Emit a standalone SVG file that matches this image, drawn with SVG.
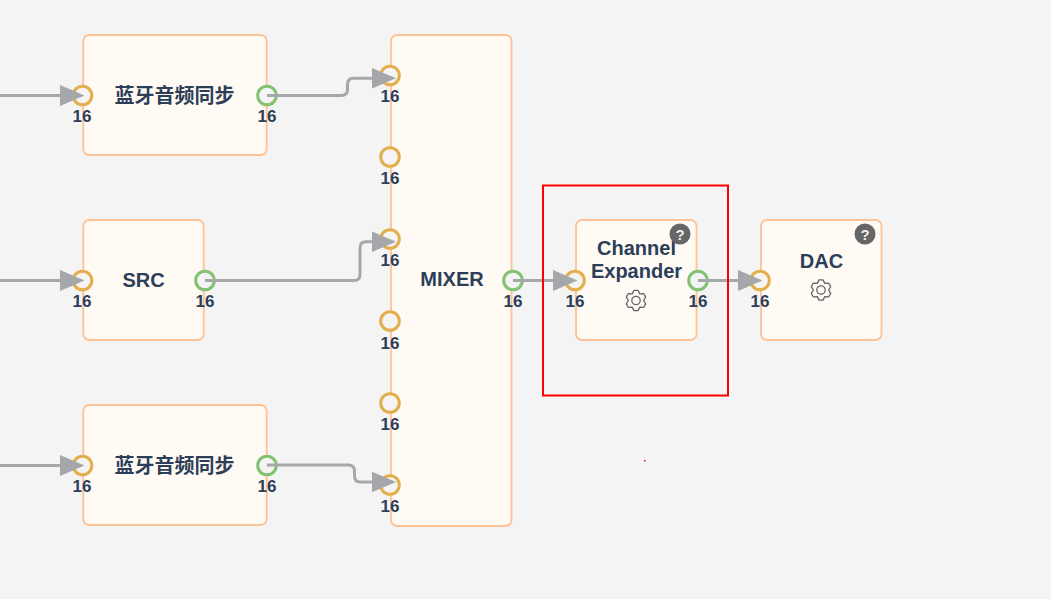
<svg xmlns="http://www.w3.org/2000/svg" width="1051" height="599" viewBox="0 0 1051 599">
<style>
.node{fill:#fffaf4;stroke:#ffc295;stroke-width:1.8}
.in{fill:#f4f4f4;stroke:#e3ae4b;stroke-width:3}
.out{fill:#f4f4f4;stroke:#82c270;stroke-width:3}
.lbl{font:bold 20px "Liberation Sans","Noto Sans CJK SC",sans-serif;fill:#2c3e58;text-anchor:middle}
.num{font:bold 17px "Liberation Sans",sans-serif;fill:#2c3e58;text-anchor:middle}
.edge{fill:none;stroke:#a6a7ab;stroke-width:3;marker-end:url(#arrow)}
.help{font:bold 15px "Liberation Sans",sans-serif;fill:#eee;text-anchor:middle}
.gear{fill:none;stroke:#666;stroke-width:1.3;stroke-linejoin:round}
</style>
<defs>
<marker id="arrow" markerUnits="userSpaceOnUse" markerWidth="26" markerHeight="22" refX="21" refY="10.500" orient="auto"><path d="M0 0L24.500 10.500L0 21Z" fill="#a6a7ab"/></marker>
<g id="gearIcon"><path class="gear" d="M-2 -10.100L2 -10.100L3.800 -6.600L7.800 -6.800L9.700 -3.350L7.600 0L9.700 3.350L7.800 6.800L3.800 6.600L2 10.100L-2 10.100L-3.800 6.600L-7.800 6.800L-9.700 3.350L-7.600 0L-9.700 -3.350L-7.800 -6.800L-3.800 -6.600Z"/><circle class="gear" r="4.200"/></g>
</defs>
<rect width="1051" height="599" fill="#f4f4f4"/>
<g id="node-bt1"><rect class="node" x="83.300" y="35" width="183.400" height="120" rx="6"/><text class="lbl" x="174.500" y="102.500">蓝牙音频同步</text><circle class="in" cx="82.500" cy="95.500" r="9.300"/><text class="num" x="82" y="121.500">16</text><circle class="out" cx="267" cy="95.500" r="9.300"/><text class="num" x="267" y="121.500">16</text></g>
<g id="node-src"><rect class="node" x="83.300" y="220" width="120.400" height="120" rx="6"/><text class="lbl" x="143.500" y="287">SRC</text><circle class="in" cx="82.500" cy="280.500" r="9.300"/><text class="num" x="82" y="306.500">16</text><circle class="out" cx="205" cy="280.500" r="9.300"/><text class="num" x="205" y="306.500">16</text></g>
<g id="node-bt2"><rect class="node" x="83.300" y="405" width="183.400" height="120" rx="6"/><text class="lbl" x="174.500" y="472.500">蓝牙音频同步</text><circle class="in" cx="82.500" cy="465.500" r="9.300"/><text class="num" x="82" y="491.500">16</text><circle class="out" cx="267" cy="465.500" r="9.300"/><text class="num" x="267" y="491.500">16</text></g>
<g id="node-mixer"><rect class="node" x="391" y="35" width="120.500" height="491" rx="6"/><text class="lbl" x="452" y="286">MIXER</text>
<circle class="in" cx="390" cy="75.500" r="9.300"/><text class="num" x="390" y="101.500">16</text>
<circle class="in" cx="390" cy="157" r="9.300"/><text class="num" x="390" y="183.500">16</text>
<circle class="in" cx="390" cy="239" r="9.300"/><text class="num" x="390" y="265.500">16</text>
<circle class="in" cx="390" cy="321" r="9.300"/><text class="num" x="390" y="348.500">16</text>
<circle class="in" cx="390" cy="403" r="9.300"/><text class="num" x="390" y="429.500">16</text>
<circle class="in" cx="390" cy="485" r="9.300"/><text class="num" x="390" y="511.500">16</text>
<circle class="out" cx="513" cy="280.500" r="9.300"/><text class="num" x="513" y="306.500">16</text></g>
<g id="node-expander"><rect class="node" x="576" y="220" width="120.500" height="120" rx="6"/><text class="lbl" x="636.500" y="255">Channel</text><text class="lbl" x="636.500" y="278">Expander</text><use href="#gearIcon" x="636" y="300.500"/><circle cx="680" cy="234" r="10.500" fill="#666"/><text class="help" x="680" y="239.500">?</text><circle class="in" cx="575" cy="280.500" r="9.300"/><text class="num" x="575" y="306.500">16</text><circle class="out" cx="698" cy="280.500" r="9.300"/><text class="num" x="698" y="306.500">16</text></g>
<g id="node-dac"><rect class="node" x="761" y="220" width="120.500" height="120" rx="6"/><text class="lbl" x="821.500" y="268">DAC</text><use href="#gearIcon" x="821" y="290"/><circle cx="865" cy="234" r="10.500" fill="#666"/><text class="help" x="865" y="239.500">?</text><circle class="in" cx="760" cy="280.500" r="9.300"/><text class="num" x="760" y="306.500">16</text></g>
<g id="connectors">
<path class="edge" d="M0 95.500H81"/>
<path class="edge" d="M0 280.500H81"/>
<path class="edge" d="M0 465.500H81"/>
<path class="edge" d="M267 95.500H341Q347.500 95.500 347.500 89.500V84.300Q347.500 78.300 353.500 78.300H392.500"/>
<path class="edge" d="M205 280.500H354Q360 280.500 360 274.500V247.700Q360 241.700 366 241.700H392.500"/>
<path class="edge" d="M267 465H348.500Q354.500 465 354.500 471V476Q354.500 482 360.500 482H392.500"/>
<path class="edge" d="M513 280.500H574"/>
<path class="edge" d="M698 280.500H759"/>
</g>
<rect x="543" y="185.500" width="185" height="210" fill="none" stroke="#ff0000" stroke-width="2"/>
<rect x="644" y="460" width="1.500" height="1.500" fill="#ff0000"/>
</svg>
